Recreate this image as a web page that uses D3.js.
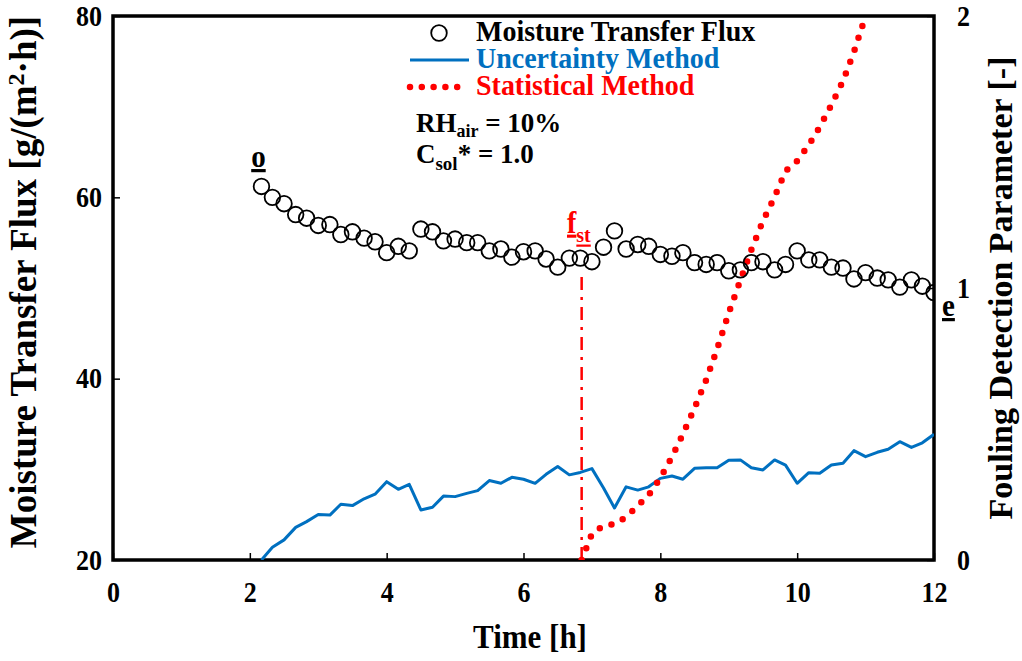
<!DOCTYPE html>
<html>
<head>
<meta charset="utf-8">
<script src="https://cdn.jsdelivr.net/npm/d3@7"></script>
<style>
    body { margin: 0; background: #fff; }
    svg text { font-family: "Liberation Serif", "Times New Roman", serif; font-weight: bold; }
    svg text.tall { transform-box: fill-box; transform-origin: center; transform: scaleY(1.1); }
    svg text.tallish { transform-box: fill-box; transform-origin: center; transform: scaleY(1.03); }
</style>
</head>
<body>
<svg id="chart" width="1022" height="661"></svg>
<script>
// sampling times [h] (every 10 min)
const times = [
    2.17, 2.33, 2.50, 2.67, 2.83, 3.00, 3.17, 3.33, 3.50, 3.67,
    3.83, 4.00, 4.17, 4.33, 4.50, 4.67, 4.83, 5.00, 5.17, 5.33,
    5.50, 5.67, 5.83, 6.00, 6.17, 6.33, 6.50, 6.67, 6.83, 7.00,
    7.17, 7.33, 7.50, 7.67, 7.83, 8.00, 8.17, 8.33, 8.50, 8.67,
    8.83, 9.00, 9.17, 9.33, 9.50, 9.67, 9.83, 10.00, 10.17, 10.33,
    10.50, 10.67, 10.83, 11.00, 11.17, 11.33, 11.50, 11.67, 11.83, 12.00
];

// moisture transfer flux [g/(m2 h)], left axis
const flux = [
    61.2, 60.0, 59.3, 58.1, 57.7, 56.9, 57.0, 55.9, 56.2, 55.5,
    55.1, 53.9, 54.6, 54.1, 56.5, 56.2, 55.2, 55.4, 55.0, 55.0,
    54.1, 54.3, 53.4, 54.0, 54.1, 53.2, 52.3, 53.3, 53.3, 52.9,
    54.5, 56.3, 54.3, 54.8, 54.6, 53.7, 53.5, 53.9, 52.8, 52.6,
    52.8, 51.9, 52.0, 52.8, 52.9, 52.0, 52.6, 54.1, 53.1, 53.1,
    52.3, 52.2, 51.0, 51.7, 51.1, 50.9, 50.1, 50.9, 50.2, 49.5
];

// uncertainty method, right axis
const uncertainty = [
    0.000, 0.047, 0.074, 0.120, 0.141, 0.167, 0.165, 0.205, 0.200, 0.225,
    0.242, 0.288, 0.260, 0.278, 0.184, 0.194, 0.235, 0.233, 0.245, 0.255,
    0.292, 0.282, 0.304, 0.297, 0.282, 0.315, 0.344, 0.313, 0.322, 0.336,
    0.265, 0.191, 0.269, 0.257, 0.269, 0.300, 0.309, 0.297, 0.337, 0.339,
    0.339, 0.367, 0.368, 0.339, 0.331, 0.368, 0.349, 0.282, 0.321, 0.319,
    0.349, 0.356, 0.402, 0.380, 0.396, 0.407, 0.435, 0.414, 0.431, 0.462
];

// statistical method, right axis
const statTimes = [
    6.85, 7.00, 7.17, 7.33, 7.50, 7.67, 7.83, 8.00, 8.17, 8.33,
    8.50, 8.67, 8.83, 9.00, 9.17, 9.33, 9.50, 9.67, 9.83, 10.00,
    10.17, 10.33, 10.50, 10.67, 10.83, 11.00
];
const statistical = [
    0.000, 0.096, 0.127, 0.132, 0.158, 0.199, 0.239, 0.301, 0.379, 0.463,
    0.559, 0.662, 0.776, 0.908, 1.029, 1.140, 1.246, 1.335, 1.430, 1.467,
    1.526, 1.592, 1.673, 1.761, 1.868, 2.000
];

// fouling start (f_st) marker
const fstTime = 6.85;
const fstTop = 51.5;

const xTicks = [0, 2, 4, 6, 8, 10, 12];
const yLeftTicks = [20, 40, 60, 80];
const yRightTicks = [0, 1, 2];

const blue = '#0070C0';
const red = '#FF0000';

const svg = d3.select('#chart');
const plotLeft = 113, plotRight = 934, plotTop = 16, plotBottom = 560;

const x = d3.scaleLinear().domain([0, 12]).range([plotLeft, plotRight]);
const yL = d3.scaleLinear().domain([20, 80]).range([plotBottom, plotTop]);
const yR = d3.scaleLinear().domain([0, 2]).range([plotBottom, plotTop]);

svg.append('clipPath').attr('id', 'plot-clip')
    .append('rect')
    .attr('x', plotLeft).attr('y', plotTop)
    .attr('width', plotRight - plotLeft).attr('height', plotBottom - plotTop);

// axes
const xAxis = svg.append('g')
    .attr('transform', `translate(0,${plotBottom})`)
    .call(d3.axisBottom(x).tickValues(xTicks).tickSizeInner(-7).tickSizeOuter(0).tickPadding(23));
const yAxisL = svg.append('g')
    .attr('transform', `translate(${plotLeft},0)`)
    .call(d3.axisLeft(yL).tickValues(yLeftTicks).tickSizeInner(-7).tickSizeOuter(0).tickPadding(11));
const yAxisR = svg.append('g')
    .attr('transform', `translate(${plotRight},0)`)
    .call(d3.axisRight(yR).tickValues(yRightTicks).tickFormat(d3.format('d')).tickSizeInner(-7).tickSizeOuter(0).tickPadding(23));

[xAxis, yAxisL, yAxisR].forEach(g => {
    g.select('.domain').remove();
    g.selectAll('line').attr('stroke', '#000').attr('stroke-width', 1.5);
    g.selectAll('text').attr('font-size', 26).attr('fill', '#000').attr('class', 'tall')
        .style('font-family', '"Liberation Serif", "Times New Roman", serif');
});

// frame
svg.append('rect')
    .attr('x', plotLeft).attr('y', plotTop)
    .attr('width', plotRight - plotLeft).attr('height', plotBottom - plotTop)
    .attr('fill', 'none').attr('stroke', '#000').attr('stroke-width', 3.5);

const plot = svg.append('g').attr('clip-path', 'url(#plot-clip)');

// uncertainty method line
plot.append('path')
    .datum(times.map((t, i) => [t, uncertainty[i]]))
    .attr('fill', 'none').attr('stroke', blue).attr('stroke-width', 3)
    .attr('stroke-linejoin', 'round')
    .attr('d', d3.line().x(d => x(d[0])).y(d => yR(d[1])));

// statistical method dotted line
plot.append('path')
    .datum(statTimes.map((t, i) => [t, statistical[i]]))
    .attr('fill', 'none').attr('stroke', red).attr('stroke-width', 6.5)
    .attr('stroke-linecap', 'round').attr('stroke-dasharray', '0,12.6')
    .attr('d', d3.line().x(d => x(d[0])).y(d => yR(d[1])));

// f_st dash-dot line
svg.append('line')
    .attr('x1', x(fstTime)).attr('x2', x(fstTime))
    .attr('y1', yL(20)).attr('y2', yL(fstTop))
    .attr('stroke', red).attr('stroke-width', 2.5)
    .attr('stroke-dasharray', '13,7,3,7');

// flux circles
plot.selectAll('circle.flux')
    .data(times.map((t, i) => [t, flux[i]]))
    .join('circle')
    .attr('class', 'flux')
    .attr('cx', d => x(d[0])).attr('cy', d => yL(d[1]))
    .attr('r', 7.8)
    .attr('fill', 'none').attr('stroke', '#000').attr('stroke-width', 1.8);

// point labels
svg.append('text').attr('class', 'tall')
    .attr('x', x(times[0]) - 3).attr('y', 166)
    .attr('text-anchor', 'middle').attr('font-size', 29)
    .attr('text-decoration', 'underline')
    .text('o');

const fst = svg.append('text').attr('class', 'tall')
    .attr('x', 567).attr('y', 232).attr('font-size', 28).attr('fill', red)
    .attr('text-decoration', 'underline');
fst.append('tspan').text('f');
fst.append('tspan').attr('dy', 9).attr('font-size', 20).text('st');

svg.append('text').attr('class', 'tall')
    .attr('x', 942).attr('y', 315).attr('font-size', 29)
    .attr('text-decoration', 'underline')
    .text('e');

// legend
const legend = svg.append('g');
legend.append('circle')
    .attr('cx', 439).attr('cy', 33).attr('r', 7.8)
    .attr('fill', 'none').attr('stroke', '#000').attr('stroke-width', 1.8);
legend.append('text').attr('class', 'tallish').attr('x', 476).attr('y', 41).attr('font-size', 28)
    .text('Moisture Transfer Flux');

legend.append('line')
    .attr('x1', 410).attr('x2', 469).attr('y1', 60).attr('y2', 60)
    .attr('stroke', blue).attr('stroke-width', 3);
legend.append('text').attr('class', 'tallish').attr('x', 476).attr('y', 68).attr('font-size', 28)
    .attr('fill', blue).text('Uncertainty Method');

legend.append('line')
    .attr('x1', 410).attr('x2', 469).attr('y1', 87).attr('y2', 87)
    .attr('stroke', red).attr('stroke-width', 6.5)
    .attr('stroke-linecap', 'round').attr('stroke-dasharray', '0,11.8');
legend.append('text').attr('class', 'tallish').attr('x', 476).attr('y', 95).attr('font-size', 28)
    .attr('fill', red).text('Statistical Method');

// conditions
const rh = svg.append('text').attr('class', 'tallish').attr('x', 416).attr('y', 132).attr('font-size', 27);
rh.append('tspan').text('RH');
rh.append('tspan').attr('dy', 5).attr('font-size', 18).text('air');
rh.append('tspan').attr('dy', -5).text(' = 10%');

const cs = svg.append('text').attr('class', 'tallish').attr('x', 416).attr('y', 163).attr('font-size', 27);
cs.append('tspan').text('C');
cs.append('tspan').attr('dy', 7).attr('font-size', 19).text('sol');
cs.append('tspan').attr('dy', -7).text('*');
cs.append('tspan').text(' = 1.0');

// axis titles
svg.append('text').attr('class', 'tall')
    .attr('x', 530).attr('y', 647)
    .attr('text-anchor', 'middle').attr('font-size', 31)
    .text('Time [h]');

const yl = svg.append('text')
    .attr('transform', 'translate(36,282) rotate(-90)')
    .attr('text-anchor', 'middle').attr('font-size', 37);
yl.append('tspan').text('Moisture Transfer Flux [g/(m');
yl.append('tspan').attr('dy', -12).attr('font-size', 24).text('2');
yl.append('tspan').attr('dy', 12).text('·h)]');

svg.append('text')
    .attr('transform', 'translate(1012,288) rotate(-90)')
    .attr('text-anchor', 'middle').attr('font-size', 34)
    .text('Fouling Detection Parameter [-]');
</script>
</body>
</html>
